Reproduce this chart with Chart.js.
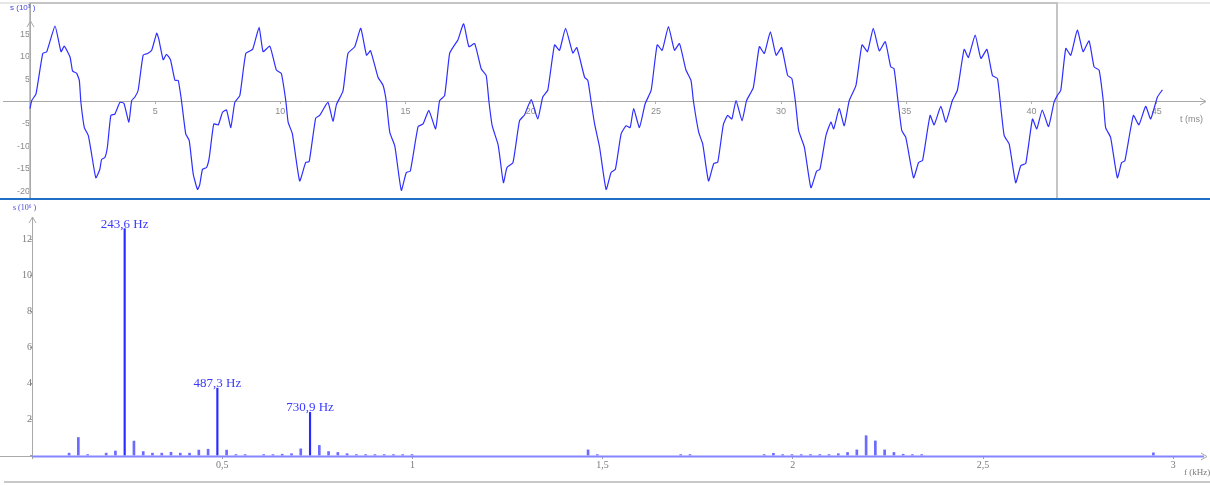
<!DOCTYPE html>
<html>
<head>
<meta charset="utf-8">
<script src="https://cdn.jsdelivr.net/npm/chart.js@4.4.1/dist/chart.umd.min.js"></script>
<style>
  html, body { margin: 0; padding: 0; background: #fff; }
  #wrap { position: relative; width: 1210px; height: 486px; overflow: hidden; background: #fff; }
  #signalCanvas { position: absolute; left: 0; top: 0; }
  #spectrumCanvas { position: absolute; left: 0; top: 200px; }
  #divider { position: absolute; left: 0; top: 198px; width: 1210px; height: 2px; background: #1f6fc6; }
</style>
</head>
<body>
<div id="wrap">
  <canvas id="signalCanvas" width="1210" height="230"></canvas>
  <canvas id="spectrumCanvas" width="1210" height="286"></canvas>
  <div id="divider"></div>
</div>
<script>
// ---- recorded signal: time (ms) and amplitude (x10^3) ----
const timeMs = [
  0.00,0.07,0.24,0.51,0.67,1.00,1.24,1.37,1.60,1.70,1.86,1.97,2.03,2.17,2.33,2.46,2.63,2.79,2.86,2.99,3.09,3.23,3.39,3.59,3.75,3.95,4.06,4.19,4.32,4.52,4.70,4.86,5.06,5.14,5.32,5.45,5.61,5.79,5.92,6.05,6.22,6.36,6.52,6.69,
  6.78,6.89,7.05,7.16,7.34,7.52,7.69,7.85,8.02,8.18,8.38,8.62,8.89,9.15,9.31,9.58,9.84,10.04,10.22,10.31,10.48,10.77,
  11.01,11.15,11.41,11.57,11.90,12.10,12.24,12.50,12.70,12.97,13.21,13.44,13.60,13.90,14.10,14.23,14.37,14.57,14.83,
  15.03,15.19,15.50,15.70,15.93,16.20,16.36,16.56,16.76,16.96,17.09,17.32,17.53,17.76,18.02,18.22,18.33,18.46,18.69,18.76,18.91,
  19.05,19.29,19.55,19.75,20.02,20.28,20.48,20.68,20.95,21.15,21.39,21.68,21.84,22.15,22.28,22.41,22.55,22.75,23.01,
  23.21,23.38,23.61,23.81,23.97,24.11,24.34,24.57,24.81,25.05,25.25,25.50,25.74,25.94,26.20,26.40,26.50,26.71,26.87,27.10,
  27.31,27.47,27.69,27.86,28.03,28.20,28.44,28.62,28.89,29.13,29.33,29.57,29.80,30.02,30.26,30.43,30.57,30.70,30.93,31.19,
  31.42,31.55,31.79,31.99,32.10,32.32,32.52,32.72,32.99,33.23,33.45,33.68,33.92,34.16,34.38,34.51,34.67,34.82,34.98,35.29,
  35.49,35.65,35.95,36.11,36.38,36.58,36.84,37.04,37.31,37.48,37.75,37.98,38.22,38.44,38.64,38.75,38.91,39.11,39.37,
  39.57,39.77,40.04,40.21,40.43,40.68,40.90,41.03,41.17,41.37,41.57,41.83,42.06,42.30,42.50,42.70,42.87,42.96,43.16,43.43,
  43.60,43.73,44.07,44.29,44.56,44.76,45.03,45.23
];
const signal = [
  -1.6,0.2,1.7,10.7,11.1,16.8,11.1,12.3,9.9,6.8,6.3,4.7,0.0,-5.8,-7.6,-11.7,-17.0,-15.1,-12.9,-12.5,-10.2,-3.1,-2.8,-0.2,-0.4,-4.6,0.2,1.0,2.5,10.3,10.7,11.4,15.2,14.0,9.3,10.5,9.3,4.7,4.7,0.2,-7.2,-8.7,-16.2,-19.6,
  -18.5,-15.1,-14.7,-12.5,-5.0,-5.2,-2.4,-1.9,-5.8,-0.2,1.3,10.7,11.6,16.5,11.1,12.3,7.0,6.2,0.0,-4.6,-7.2,-17.7,
  -13.6,-13.4,-3.7,-3.1,-0.2,-4.4,-0.7,2.3,10.7,12.2,16.3,10.3,11.3,5.4,3.6,0.0,-6.9,-9.9,-19.8,
  -15.8,-15.5,-5.6,-5.0,-2.0,-6.1,0.2,1.3,10.7,12.6,13.7,17.3,12.2,12.9,7.3,5.8,0.0,-5.4,-9.5,-12.1,-18.1,
  -14.7,-13.6,-4.3,-3.0,0.4,-3.9,1.0,2.5,12.6,11.4,16.3,10.8,12.0,5.4,4.7,0.0,-5.0,-10.2,-19.6,
  -15.8,-15.1,-7.2,-5.4,-5.8,-1.6,-5.8,-0.5,2.5,12.6,11.4,16.7,11.4,12.9,7.0,4.7,0.0,-6.9,-9.5,-17.7,
  -13.8,-13.5,-5.2,-3.1,-3.9,0.2,-4.3,0.2,3.1,12.2,10.7,15.5,10.3,12.0,5.8,5.1,0.0,-6.5,-10.2,-19.2,
  -15.5,-15.1,-7.6,-4.6,-6.1,-1.6,-5.4,0.2,3.6,12.6,11.1,16.3,11.3,13.3,7.7,7.3,0.0,-6.5,-8.0,-17.0,
  -13.6,-13.1,-3.1,-5.2,-1.1,-4.6,0.2,2.5,11.6,9.8,14.8,9.6,11.6,5.8,5.1,0.0,-7.6,-9.5,-18.1,
  -14.3,-13.8,-3.9,-6.1,-1.9,-5.6,-0.2,1.3,2.5,11.8,10.3,15.9,11.1,13.5,7.7,7.0,0.0,-5.8,-8.0,-17.0,
  -13.6,-13.2,-3.1,-5.2,-1.1,-3.9,1.0,2.6
];
const selectionEndMs = 41.0;

// ---- spectrum: labelled peaks (Hz) and the smaller lines (kHz) ----
const peakHz = [243.6, 487.3, 730.9];
const peakAmp = [12.6, 3.74, 2.4];
const lineKHz = [
  0.0975,0.1218,0.1462,0.1949,0.2193,0.2680,0.2924,0.3167,0.3411,0.3654,0.3898,0.4142,0.4385,0.4629,
  0.5116,0.5360,0.5603,0.6091,0.6334,0.6578,0.6822,0.7065,0.7553,0.7796,0.8040,0.8283,
  0.8527,0.8771,0.9014,0.9258,0.9502,0.9745,0.9989,
  1.4618,1.4861,1.7054,1.7298,
  1.9247,1.9490,1.9734,1.9978,2.0221,2.0465,2.0709,2.0952,2.1196,2.1439,2.1683,2.1927,2.2170,2.2414,2.2658,2.2901,2.3145,2.3388,
  2.9479
];
const lineAmp = [
  0.13,1.0,0.05,0.13,0.25,0.8,0.22,0.13,0.13,0.18,0.13,0.13,0.3,0.35,
  0.3,0.05,0.05,0.05,0.05,0.07,0.1,0.37,0.56,0.22,0.17,0.1,
  0.05,0.05,0.05,0.05,0.05,0.05,0.05,
  0.31,0.05,0.05,0.05,
  0.05,0.12,0.05,0.05,0.05,0.05,0.05,0.05,0.1,0.17,0.31,1.1,0.81,0.31,0.17,0.07,0.05,0.05,
  0.15
];

const GRAY_AXIS = '#a9a9a9';
const TICK_GRAY = '#8c8c8c';

function seg(ctx, x1, y1, x2, y2) {
  ctx.beginPath(); ctx.moveTo(x1, y1); ctx.lineTo(x2, y2); ctx.stroke();
}
function arrowRight(ctx, x, y) {
  ctx.beginPath(); ctx.moveTo(x - 6, y - 3.5); ctx.lineTo(x, y); ctx.lineTo(x - 6, y + 3.5); ctx.stroke();
}
function arrowUp(ctx, x, y) {
  ctx.beginPath(); ctx.moveTo(x - 3.5, y + 6); ctx.lineTo(x, y); ctx.lineTo(x + 3.5, y + 6); ctx.stroke();
}

// axis lines, arrows, frame and titles for the time-domain panel
const signalDecor = {
  id: 'signalDecor',
  beforeDatasetsDraw(chart) {
    const {ctx, scales: {x, y}} = chart;
    const x0 = Math.round(x.getPixelForValue(0)) + 0.5;
    const y0 = Math.round(y.getPixelForValue(0)) + 0.5;
    const xSel = Math.round(x.getPixelForValue(selectionEndMs));
    ctx.save();
    ctx.lineWidth = 2;
    ctx.strokeStyle = '#e6e6e6';
    seg(ctx, 0, 3, 1210, 3);
    ctx.strokeStyle = '#c4c4c4';
    ctx.strokeRect(x0 - 0.5, 3, xSel - x0 + 0.5, 196);
    ctx.lineWidth = 1;
    ctx.strokeStyle = GRAY_AXIS;
    seg(ctx, 3, y0, 1206, y0);
    arrowRight(ctx, 1206, y0);
    seg(ctx, x0, 3, x0, 198);
    arrowUp(ctx, x0, 21);
    ctx.fillStyle = '#8a8a8a';
    ctx.font = '9px "Liberation Sans", Arial, sans-serif';
    ctx.textBaseline = 'middle';
    ctx.textAlign = 'left';
    ctx.fillText('t (ms)', 1180, 120);
    ctx.fillStyle = '#4747dd';
    ctx.font = '8px "Liberation Sans", Arial, sans-serif';
    ctx.fillText('s (10³ )', 10, 8);
    ctx.restore();
  }
};

// axis lines, baseline, frame and titles for the spectrum panel
const spectrumDecor = {
  id: 'spectrumDecor',
  beforeDatasetsDraw(chart) {
    const {ctx, scales: {x, y}} = chart;
    const x0 = Math.round(x.getPixelForValue(0)) + 0.5;
    const y0 = Math.round(y.getPixelForValue(0)) + 0.5;
    ctx.save();
    ctx.lineWidth = 1;
    ctx.strokeStyle = GRAY_AXIS;
    seg(ctx, 0, y0, x0, y0);
    seg(ctx, x0, 17, x0, y0);
    arrowUp(ctx, x0, 17);
    arrowRight(ctx, 1207, y0);
    ctx.lineWidth = 2;
    ctx.strokeStyle = '#8585ff';
    seg(ctx, x0, y0, 1204, y0);
    ctx.strokeStyle = '#c8c8c8';
    seg(ctx, 4, 282, 1210, 282);
    ctx.fillStyle = '#7a7a7a';
    ctx.font = '9px "Liberation Serif", "Times New Roman", serif';
    ctx.textBaseline = 'middle';
    ctx.textAlign = 'left';
    ctx.fillText('f (kHz)', 1184, 273);
    ctx.fillStyle = '#4747dd';
    ctx.font = '8px "Liberation Serif", "Times New Roman", serif';
    ctx.fillText('s (10⁶ )', 13, 8);
    ctx.restore();
  },
  afterDatasetsDraw(chart) {
    const {ctx, scales: {x, y}} = chart;
    ctx.save();
    ctx.fillStyle = '#3a3aff';
    ctx.font = '13px "Liberation Serif", "Times New Roman", serif';
    ctx.textAlign = 'center';
    ctx.textBaseline = 'alphabetic';
    peakHz.forEach((hz, i) => {
      const px = x.getPixelForValue(hz / 1000);
      const py = y.getPixelForValue(peakAmp[i]);
      ctx.fillText(String(hz).replace('.', ',') + ' Hz', px, py - 1);
    });
    ctx.restore();
  }
};

const hideZero = v => (v === 0 ? '' : String(v).replace('.', ','));

new Chart(document.getElementById('signalCanvas'), {
  type: 'line',
  data: {
    datasets: [{
      data: timeMs.map((t, i) => ({x: t, y: signal[i]})),
      borderColor: '#2e2eff',
      borderWidth: 1.2,
      pointRadius: 0,
      tension: 0.15,
      clip: false
    }]
  },
  options: {
    responsive: false,
    animation: false,
    layout: {padding: {left: 30, right: 5, top: 22, bottom: 32}},
    plugins: {legend: {display: false}, tooltip: {enabled: false}},
    scales: {
      x: {
        type: 'linear',
        position: {y: 0},
        min: 0, max: 46.93,
        border: {display: false},
        grid: {drawOnChartArea: false, drawTicks: true, tickLength: 3, tickColor: '#b0b0b0'},
        ticks: {stepSize: 5, includeBounds: false, padding: 2, color: TICK_GRAY,
                font: {family: '"Liberation Sans", Arial, sans-serif', size: 9},
                maxRotation: 0, autoSkip: false, callback: hideZero}
      },
      y: {
        type: 'linear',
        position: {x: 0},
        min: -21.5, max: 17.7,
        border: {display: false},
        grid: {drawOnChartArea: false, drawTicks: true, tickLength: 2, tickColor: '#b0b0b0'},
        ticks: {stepSize: 5, includeBounds: false, padding: 1, color: TICK_GRAY,
                font: {family: '"Liberation Sans", Arial, sans-serif', size: 9},
                callback: hideZero}
      }
    }
  },
  plugins: [signalDecor]
});

new Chart(document.getElementById('spectrumCanvas'), {
  type: 'bar',
  data: {
    datasets: [
      {
        data: lineKHz.map((f, i) => ({x: f, y: lineAmp[i]})),
        backgroundColor: '#6b6bff',
        barThickness: 2,
        grouped: false
      },
      {
        data: peakHz.map((hz, i) => ({x: hz / 1000, y: peakAmp[i]})),
        backgroundColor: '#2a2aff',
        barThickness: 1.5,
        grouped: false
      }
    ]
  },
  options: {
    responsive: false,
    animation: false,
    layout: {padding: {left: 32, right: 4, top: 18, bottom: 18}},
    plugins: {legend: {display: false}, tooltip: {enabled: false}},
    scales: {
      x: {
        type: 'linear',
        position: {y: 0},
        offset: false,
        min: 0, max: 3.0862,
        border: {display: false},
        grid: {offset: false, drawOnChartArea: false, drawTicks: true, tickLength: 3, tickColor: '#a0a0a0'},
        ticks: {stepSize: 0.5, includeBounds: false, padding: 1, color: '#7a7a7a',
                font: {family: '"Liberation Serif", "Times New Roman", serif', size: 10},
                maxRotation: 0, autoSkip: false, callback: hideZero}
      },
      y: {
        type: 'linear',
        position: {x: 0},
        min: -0.694, max: 13.19,
        border: {display: false},
        grid: {drawOnChartArea: false, drawTicks: true, tickLength: 2, tickColor: '#a0a0a0'},
        ticks: {stepSize: 2, includeBounds: false, padding: 1, color: '#7a7a7a',
                font: {family: '"Liberation Serif", "Times New Roman", serif', size: 10},
                callback: hideZero}
      }
    }
  },
  plugins: [spectrumDecor]
});
</script>
</body>
</html>
